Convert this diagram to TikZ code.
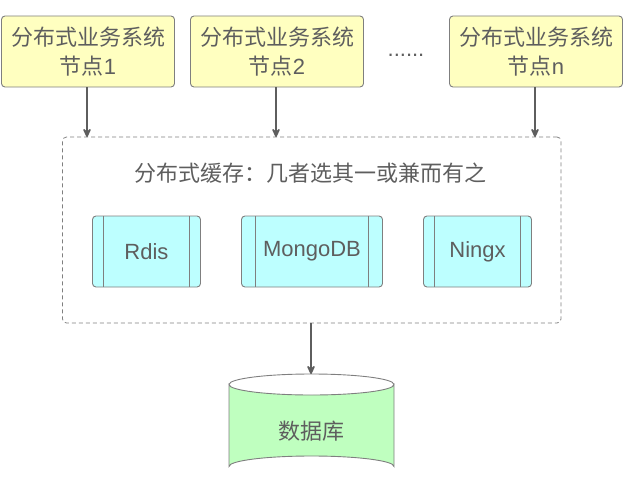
\documentclass[tikz,border=0pt]{standalone}
\usepackage{fontspec}
\setmainfont{Liberation Sans}
\newfontfamily\cjk{Noto Sans CJK SC}
\usetikzlibrary{arrows.meta,calc}
\definecolor{ink}{HTML}{5E5E5E}
\definecolor{edge}{HTML}{7F7F7F}
\definecolor{yel}{HTML}{FFFFC0}
\definecolor{cya}{HTML}{BDFFFF}
\definecolor{grn}{HTML}{BFFFBF}
\tikzset{
 x=1pt,y=-1pt,
 every node/.style={font=\fontsize{22}{29}\selectfont,text=ink,inner sep=0pt,outer sep=0pt},
 sysbox/.style={draw=edge,line width=0.9pt,fill=yel,rounded corners=3.5pt,minimum height=71pt,align=center},
 cachebox/.style={draw=edge,line width=0.9pt,fill=cya,rounded corners=3.5pt,minimum height=71pt},
 dashbox/.style={draw=edge,line width=0.8pt,dash pattern=on 4pt off 3pt,rounded corners=4pt,minimum width=498.5pt,minimum height=186pt},
 flow/.style={draw=ink,line width=1.7pt,-{Stealth[length=12pt,width=11pt,inset=5.5pt,round]}},
 divider/.style={draw=edge,line width=0.9pt},
}
\begin{document}
\begin{tikzpicture}
\useasboundingbox (0,0) rectangle (623,495);
\node[sysbox,minimum width=173pt] (n1) at (88,51.5) {{\cjk 分布式业务系统}\\{\cjk 节点}1};
\node[sysbox,minimum width=173pt] (n2) at (277,51.5) {{\cjk 分布式业务系统}\\{\cjk 节点}2};
\node[sysbox,minimum width=173pt] (n3) at (536,51.5) {{\cjk 分布式业务系统}\\{\cjk 节点}n};
\node (dots) at (406,55) {......};
\node[dashbox] (cache) at (311.75,230) {};
\node (title) at (310.5,173) {\cjk 分布式缓存：几者选其一或兼而有之};
\node[cachebox,minimum width=108pt] (r) at (146.5,251.5) {Rdis};
\node[cachebox,minimum width=141pt] (m) at (312,251.5) {MongoDB};
\node[cachebox,minimum width=108pt] (g) at (477.5,251.5) {Ningx};
\draw[divider] ($(r.north west)+(11,0)$) -- ($(r.south west)+(11,0)$);
\draw[divider] ($(r.north east)+(-11,0)$) -- ($(r.south east)+(-11,0)$);
\draw[divider] ($(m.north west)+(14,0)$) -- ($(m.south west)+(14,0)$);
\draw[divider] ($(m.north east)+(-14,0)$) -- ($(m.south east)+(-14,0)$);
\draw[divider] ($(g.north west)+(11,0)$) -- ($(g.south west)+(11,0)$);
\draw[divider] ($(g.north east)+(-11,0)$) -- ($(g.south east)+(-11,0)$);
\node[minimum width=165pt,minimum height=103pt] (db) at (311.5,425.5) {};
\draw[draw=edge,line width=0.9pt,fill=grn]
  (229,384.5) arc[start angle=180,end angle=360,x radius=82.5,y radius=-10.5]
  -- (394,466.5) arc[start angle=0,end angle=-180,x radius=82.5,y radius=10.5] -- cycle;
\draw[draw=edge,line width=0.9pt] (229,384.5) arc[start angle=180,end angle=0,x radius=82.5,y radius=-10.5];
\node at (311.5,431) {\cjk 数据库};
\draw[flow] (n1.south -| 87,0) -- (cache.north -| 87,0);
\draw[flow] (n2.south -| 276,0) -- (cache.north -| 276,0);
\draw[flow] (n3.south -| 535,0) -- (cache.north -| 535,0);
\draw[flow] (cache.south -| 311,0) -- (db.north -| 311,0);
\end{tikzpicture}
\end{document}
